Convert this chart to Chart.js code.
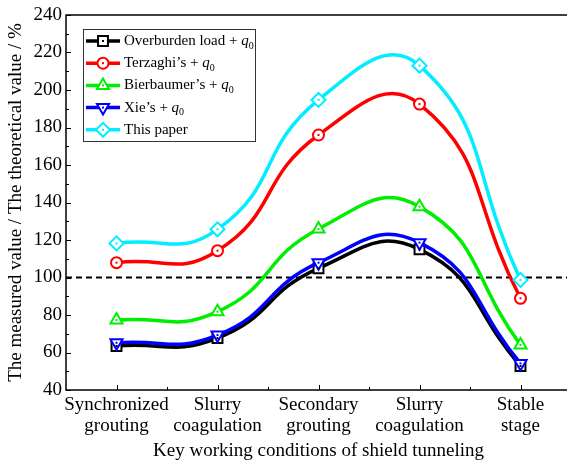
<!DOCTYPE html>
<html>
<head>
<meta charset="utf-8">
<script src="https://cdn.jsdelivr.net/npm/chart.js@4.4.1/dist/chart.umd.min.js"></script>
<style>
  html, body { margin: 0; padding: 0; background: #fff; overflow: hidden; }
  canvas { display: block; }
</style>
</head>
<body>
<canvas id="chart" width="580" height="461"></canvas>
<script>
// working stages (x categories)
const stages = [
  ["Synchronized", "grouting"],
  ["Slurry", "coagulation"],
  ["Secondary", "grouting"],
  ["Slurry", "coagulation"],
  ["Stable", "stage"]
];

// measured / theoretical, %
const overburdenLoad = [63.5, 67.7, 104.9, 115.0, 52.8];
const terzaghi = [107.9, 114.3, 176.0, 192.5, 88.9];
const bierbaumer = [77.3, 81.8, 125.9, 137.8, 64.0];
const xie = [65.2, 69.3, 107.9, 118.6, 54.2];
const thisPaper = [118.2, 125.7, 194.7, 213.0, 98.7];

const seriesNames = ["Overburden load", "Terzaghi\u2019s", "Bierbaumer\u2019s", "Xie\u2019s", "This paper"];
const withQ0 = [true, true, true, true, false];

const yMin = 40;
const yMax = 240;
const yStep = 20;
const referenceLine = 100;

const FONT = "'Liberation Serif', 'Times New Roman', serif";

function makeSet(label, data, color, style, rotation, radius, order) {
  return {
    label: label,
    data: data,
    borderColor: color,
    backgroundColor: color,
    borderWidth: 3.5,
    tension: 0.5,
    pointStyle: style,
    pointRotation: rotation,
    pointRadius: radius,
    pointBorderWidth: 2,
    pointBackgroundColor: "#fff",
    pointBorderColor: color,
    order: order
  };
}

// dashed 100% line, frame, inward ticks, marker centre dots
const frameAndTicks = {
  id: "frameAndTicks",
  beforeDatasetsDraw(chart) {
    const { ctx, chartArea: a, scales: { y } } = chart;
    const py = y.getPixelForValue(referenceLine);
    ctx.save();
    ctx.setLineDash([6, 4]);
    ctx.lineWidth = 2;
    ctx.strokeStyle = "#000";
    ctx.beginPath();
    ctx.moveTo(a.left, py);
    ctx.lineTo(a.right, py);
    ctx.stroke();
    ctx.restore();
  },
  afterDatasetsDraw(chart) {
    const { ctx, chartArea: a, scales: { x, y } } = chart;
    ctx.save();

    // little dot inside every marker
    chart.data.datasets.forEach((ds, i) => {
      const meta = chart.getDatasetMeta(i);
      ctx.fillStyle = ds.borderColor;
      meta.data.forEach((pt) => {
        ctx.fillRect(pt.x - 1, pt.y - 1, 2, 2);
      });
    });

    ctx.strokeStyle = "#000";
    ctx.lineWidth = 1.5;
    ctx.strokeRect(a.left, a.top, a.right - a.left, a.bottom - a.top);

    ctx.lineWidth = 1;
    // y ticks, major + minor, pointing in
    const yt = y.ticks;
    yt.forEach((t, i) => {
      const py = Math.round(y.getPixelForValue(t.value)) + 0.5;
      ctx.beginPath();
      ctx.moveTo(a.left, py);
      ctx.lineTo(a.left + 5, py);
      ctx.stroke();
      if (i < yt.length - 1) {
        const pm = Math.round(y.getPixelForValue((t.value + yt[i + 1].value) / 2)) + 0.5;
        ctx.beginPath();
        ctx.moveTo(a.left, pm);
        ctx.lineTo(a.left + 3, pm);
        ctx.stroke();
      }
    });
    // x ticks
    for (let i = 0; i < stages.length; i++) {
      const px = Math.round(x.getPixelForValue(i)) + 0.5;
      ctx.beginPath();
      ctx.moveTo(px, a.bottom);
      ctx.lineTo(px, a.bottom - 5);
      ctx.stroke();
      if (i < stages.length - 1) {
        const pm = Math.round((x.getPixelForValue(i) + x.getPixelForValue(i + 1)) / 2) + 0.5;
        ctx.beginPath();
        ctx.moveTo(pm, a.bottom);
        ctx.lineTo(pm, a.bottom - 3);
        ctx.stroke();
      }
    }
    ctx.restore();
  }
};

// legend with italic q and subscript 0
const legendBox = {
  id: "legendBox",
  afterDraw(chart) {
    const ctx = chart.ctx;
    const x0 = 83, y0 = 29, w = 172, h = 112;
    ctx.save();
    ctx.fillStyle = "#fff";
    ctx.fillRect(x0, y0, w, h);
    ctx.strokeStyle = "#333";
    ctx.lineWidth = 1;
    ctx.strokeRect(x0 + 0.5, y0 + 0.5, w, h);

    chart.data.datasets.forEach((ds, i) => {
      const yy = 41 + i * 22.2;
      ctx.strokeStyle = ds.borderColor;
      ctx.lineWidth = 3.5;
      ctx.beginPath();
      ctx.moveTo(86, yy);
      ctx.lineTo(120, yy);
      ctx.stroke();

      ctx.fillStyle = "#fff";
      ctx.lineWidth = ds.pointBorderWidth;
      Chart.helpers.drawPoint(ctx, {
        pointStyle: ds.pointStyle,
        rotation: ds.pointRotation,
        radius: ds.pointRadius,
        borderWidth: ds.pointBorderWidth
      }, 103, yy);
      ctx.fillStyle = ds.borderColor;
      ctx.fillRect(102, yy - 1, 2, 2);

      ctx.fillStyle = "#000";
      ctx.textBaseline = "middle";
      ctx.textAlign = "left";
      ctx.font = "15px " + FONT;
      let tx = 124;
      const name = withQ0[i] ? seriesNames[i] + " + " : seriesNames[i];
      ctx.fillText(name, tx, yy);
      if (withQ0[i]) {
        tx += ctx.measureText(name).width;
        ctx.font = "italic 15px " + FONT;
        ctx.fillText("q", tx, yy);
        tx += ctx.measureText("q").width;
        ctx.font = "10px " + FONT;
        ctx.fillText("0", tx, yy + 5);
      }
    });
    ctx.restore();
  }
};

new Chart(document.getElementById("chart"), {
  type: "line",
  data: {
    labels: stages,
    datasets: [
      makeSet("Overburden load + q0", overburdenLoad, "#000000", "rect", 0, 7, 5),
      makeSet("Terzaghi's + q0", terzaghi, "#ff0000", "circle", 0, 5.5, 3),
      makeSet("Bierbaumer's + q0", bierbaumer, "#00ee00", "triangle", 0, 7, 4),
      makeSet("Xie's + q0", xie, "#0000ff", "triangle", 180, 7, 2),
      makeSet("This paper", thisPaper, "#00eeff", "rectRot", 0, 7, 1)
    ]
  },
  options: {
    responsive: false,
    devicePixelRatio: 1,
    animation: false,
    layout: { padding: { top: 15, right: 2, left: 0, bottom: 0 } },
    plugins: {
      legend: { display: false },
      tooltip: { enabled: false }
    },
    scales: {
      x: {
        type: "category",
        offset: true,
        grid: { display: false, drawTicks: false },
        border: { display: false },
        ticks: {
          color: "#000",
          font: { family: FONT, size: 19, lineHeight: 1.1 },
          padding: 5,
          maxRotation: 0,
          autoSkip: false
        },
        title: {
          display: true,
          text: "Key working conditions of shield tunneling",
          color: "#000",
          font: { family: FONT, size: 19, lineHeight: 1.0 },
          padding: { top: 0, bottom: 0 }
        },
        afterFit(s) {
          s.height = 71;
          s.paddingLeft = 0;
          s.paddingRight = 0;
        }
      },
      y: {
        min: yMin,
        max: yMax,
        grid: { display: false, drawTicks: false },
        border: { display: false },
        ticks: {
          stepSize: yStep,
          color: "#000",
          font: { family: FONT, size: 19 },
          padding: 4
        },
        title: {
          display: true,
          text: "The measured value / The theoretical value / %",
          color: "#000",
          font: { family: FONT, size: 19 },
          padding: { top: 5, bottom: 0 }
        },
        afterFit(s) {
          s.width = 66;
          s.paddingTop = 0;
          s.paddingBottom = 0;
        }
      }
    }
  },
  plugins: [frameAndTicks, legendBox]
});
</script>
</body>
</html>
